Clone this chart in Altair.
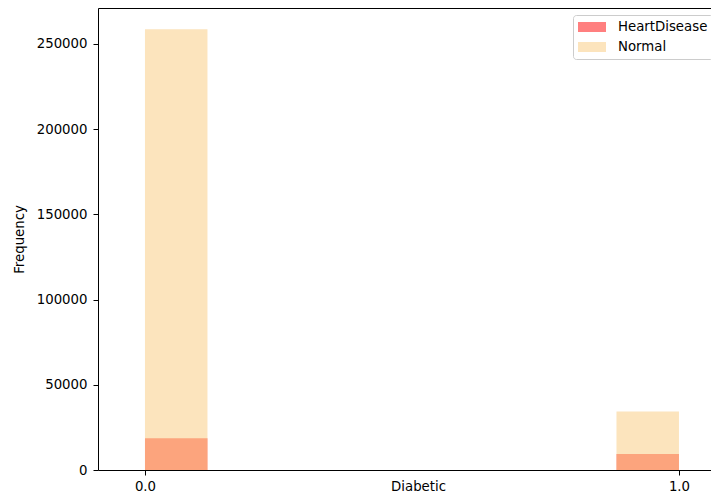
import altair as alt
import pandas as pd

# Histogram bins of "Diabetic" (0 = no, 1 = yes)
bin_start = [0.0, 0.883]
bin_end = [0.117, 1.0]
heart_disease = [18700, 9350]
normal = [258600, 34300]
groups = ["HeartDisease", "Normal"]
colors = ["#FF0000", "#F9CA7C"]

rows = []
for g, vals in zip(groups, [heart_disease, normal]):
    for s, e, v in zip(bin_start, bin_end, vals):
        rows.append({"group": g, "start": s, "end": e, "count": v})
df = pd.DataFrame(rows)

FONT = "DejaVu Sans"
FS = 13.3
XDOM = [-0.088, 1.06]
YDOM = [0, 271100]

bars = alt.Chart(df).mark_bar(opacity=0.5, strokeWidth=0).encode(
    x=alt.X("start:Q", scale=alt.Scale(domain=XDOM, nice=False, zero=False),
            axis=alt.Axis(title="Diabetic", values=[0, 1], format=".1f", grid=False,
                          tickSize=5, labelPadding=4, labelFlush=False,
                          titleX=320, titleY=20, titleBaseline="alphabetic",
                          titleFontWeight="normal")),
    x2="end:Q",
    y=alt.Y("count:Q", scale=alt.Scale(domain=YDOM, nice=False),
            axis=alt.Axis(title="Frequency", values=[0, 50000, 100000, 150000, 200000, 250000],
                          format="d", grid=False, tickSize=5, labelPadding=6,
                          titleX=-75, titleY=231, titleBaseline="alphabetic",
                          titleFontWeight="normal")),
    y2=alt.datum(0),
    color=alt.Color("group:N", scale=alt.Scale(domain=groups, range=colors),
                    legend=alt.Legend(title=None, orient="none", legendX=475, legendY=7,
                                      symbolType="M-2,-0.714H2V0.714H-2Z", symbolSize=196,
                                      symbolStrokeWidth=0, symbolOffset=7, labelOffset=19,
                                      rowPadding=6, padding=5, strokeColor="#cccccc",
                                      cornerRadius=3, fillColor="white",
                                      labelFontSize=FS, labelFont=FONT, labelColor="black")),
    order=alt.Order("group:N", sort="ascending"),
)

frame_top = alt.Chart(df).mark_bar(opacity=0).encode(
    x=alt.X("start:Q", scale=alt.Scale(domain=XDOM, nice=False, zero=False),
            axis=alt.Axis(orient="top", title=None, labels=False, ticks=False,
                          grid=False, domain=True)),
    x2="end:Q",
    y=alt.Y("count:Q", scale=alt.Scale(domain=YDOM, nice=False), axis=None),
    y2=alt.datum(0),
)

chart = alt.layer(bars, frame_top).resolve_axis(
    x="independent", y="independent"
).properties(
    width=613, height=462,
    autosize=alt.AutoSizeParams(type="none"),
    padding={"left": 90, "top": 0, "right": 0, "bottom": 24},
).configure_view(
    stroke=None
).configure_axis(
    labelFont=FONT, titleFont=FONT, labelFontSize=FS, titleFontSize=FS,
    labelColor="black", titleColor="black", domainColor="black", tickColor="black",
    domainWidth=1, tickWidth=1,
)

chart.save("out.html", embed_options={"renderer": "svg", "actions": False})
